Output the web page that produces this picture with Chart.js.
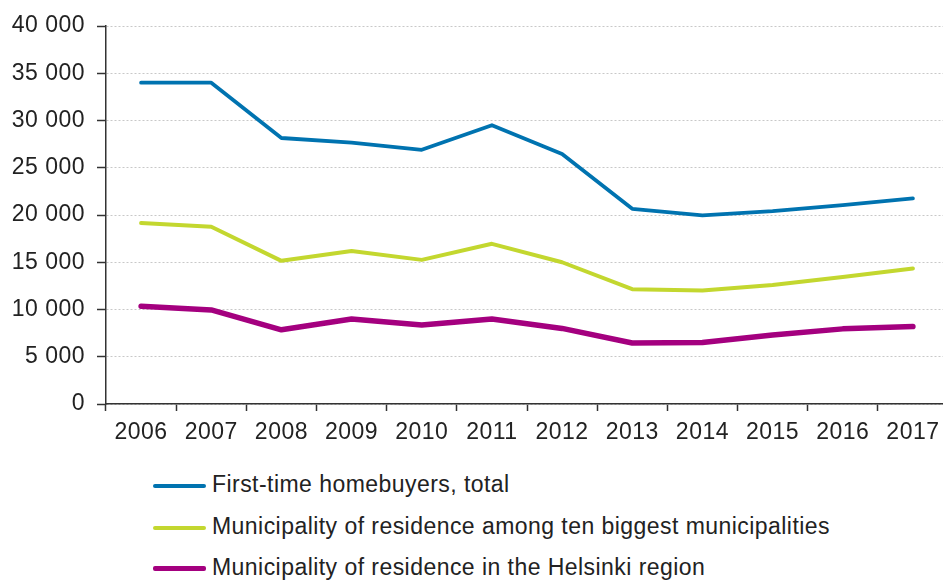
<!DOCTYPE html>
<html>
<head>
<meta charset="utf-8">
<script src="https://cdn.jsdelivr.net/npm/chart.js@4/dist/chart.umd.min.js"></script>
<style>
  body { margin: 0; background: #fff; overflow: hidden; width: 943px; height: 581px; position: relative; }
  #wrap { position: absolute; left: 0; top: 0; width: 948px; height: 450px; }
  .leg { position: absolute; left: 153px; font: 23px "Liberation Sans", Arial, sans-serif; letter-spacing: 0.45px; color: #222; white-space: nowrap; }
  .leg i { display: inline-block; width: 53px; vertical-align: middle; margin-right: 6px; border-radius: 2px; }
</style>
</head>
<body>
<div id="wrap"><canvas id="chart"></canvas></div>
<div id="legend"></div>
<script>
  // values
  const years = ['2006', '2007', '2008', '2009', '2010', '2011', '2012', '2013', '2014', '2015', '2016', '2017'];
  const firstTime = [34000, 34000, 28150, 27650, 26900, 29500, 26450, 20650, 19950, 20400, 21050, 21750];
  const tenBiggest = [19150, 18750, 15150, 16200, 15250, 16950, 15000, 12150, 12000, 12600, 13450, 14350];
  const helsinki = [10350, 9950, 7850, 9000, 8350, 9000, 8000, 6450, 6500, 7300, 7950, 8200];
  const yTicks = [0, 5000, 10000, 15000, 20000, 25000, 30000, 35000, 40000];

  const seriesNames = [
    'First-time homebuyers, total',
    'Municipality of residence among ten biggest municipalities',
    'Municipality of residence in the Helsinki region'
  ];
  const colors = ['#0073b0', '#c3d72f', '#a4007f'];
  const widths = [3.8, 4, 5.5];

  const font = { family: '"Liberation Sans", Arial, sans-serif', size: 23 };

  // slightly wider letters, like the reference
  const spacing = {
    id: 'spacing',
    beforeDraw: (c) => { c.ctx.letterSpacing = '0.5px'; }
  };

  const ctx = document.getElementById('chart').getContext('2d');
  const chart = new Chart(ctx, {
    type: 'line',
    data: {
      labels: years,
      datasets: [firstTime, tenBiggest, helsinki].map((d, i) => ({
        label: seriesNames[i],
        data: d,
        borderColor: colors[i],
        backgroundColor: colors[i],
        borderWidth: widths[i],
        pointRadius: 0,
        tension: 0,
        borderCapStyle: 'round',
        borderJoinStyle: 'round'
      }))
    },
    plugins: [spacing],
    options: {
      responsive: true,
      maintainAspectRatio: false,
      animation: false,
      layout: { padding: { top: 26, right: 0, bottom: 0, left: 0 } },
      plugins: {
        legend: { display: false },
        tooltip: { enabled: false }
      },
      scales: {
        x: {
          offset: true,
          grid: {
            offset: true,
            drawOnChartArea: false,
            tickLength: 7,
            tickColor: '#333',
            tickWidth: 1.5
          },
          border: { color: '#333', width: 1.5 },
          ticks: { color: '#222', font: font, padding: 8, maxRotation: 0, autoSkip: false },
          afterFit: (s) => { s.height = 46; }
        },
        y: {
          min: 0,
          max: 40000,
          afterBuildTicks: (s) => { s.ticks = yTicks.map(v => ({ value: v })); },
          grid: {
            color: '#c8c8c8',
            lineWidth: 1,
            tickLength: 9,
            tickColor: '#333',
            tickWidth: 1.5,
            tickBorderDash: []
          },
          border: { color: '#333', width: 1.5, dash: [2, 2] },
          ticks: {
            color: '#222',
            font: font,
            padding: 12,
            callback: (v) => String(v).replace(/\B(?=(\d{3})+(?!\d))/g, ' ')
          },
          afterFit: (s) => { s.width = 106; }
        }
      }
    }
  });

  // legend below the chart, one row per series
  const legendTops = [485, 527, 568];
  const legend = document.getElementById('legend');
  seriesNames.forEach((name, i) => {
    const row = document.createElement('div');
    row.className = 'leg';
    row.style.top = (legendTops[i] - 14) + 'px';
    row.innerHTML = '<i style="height:' + (i === 2 ? 5 : 4) + 'px;background:' + colors[i] + '"></i>' + name;
    legend.appendChild(row);
  });
</script>
</body>
</html>
